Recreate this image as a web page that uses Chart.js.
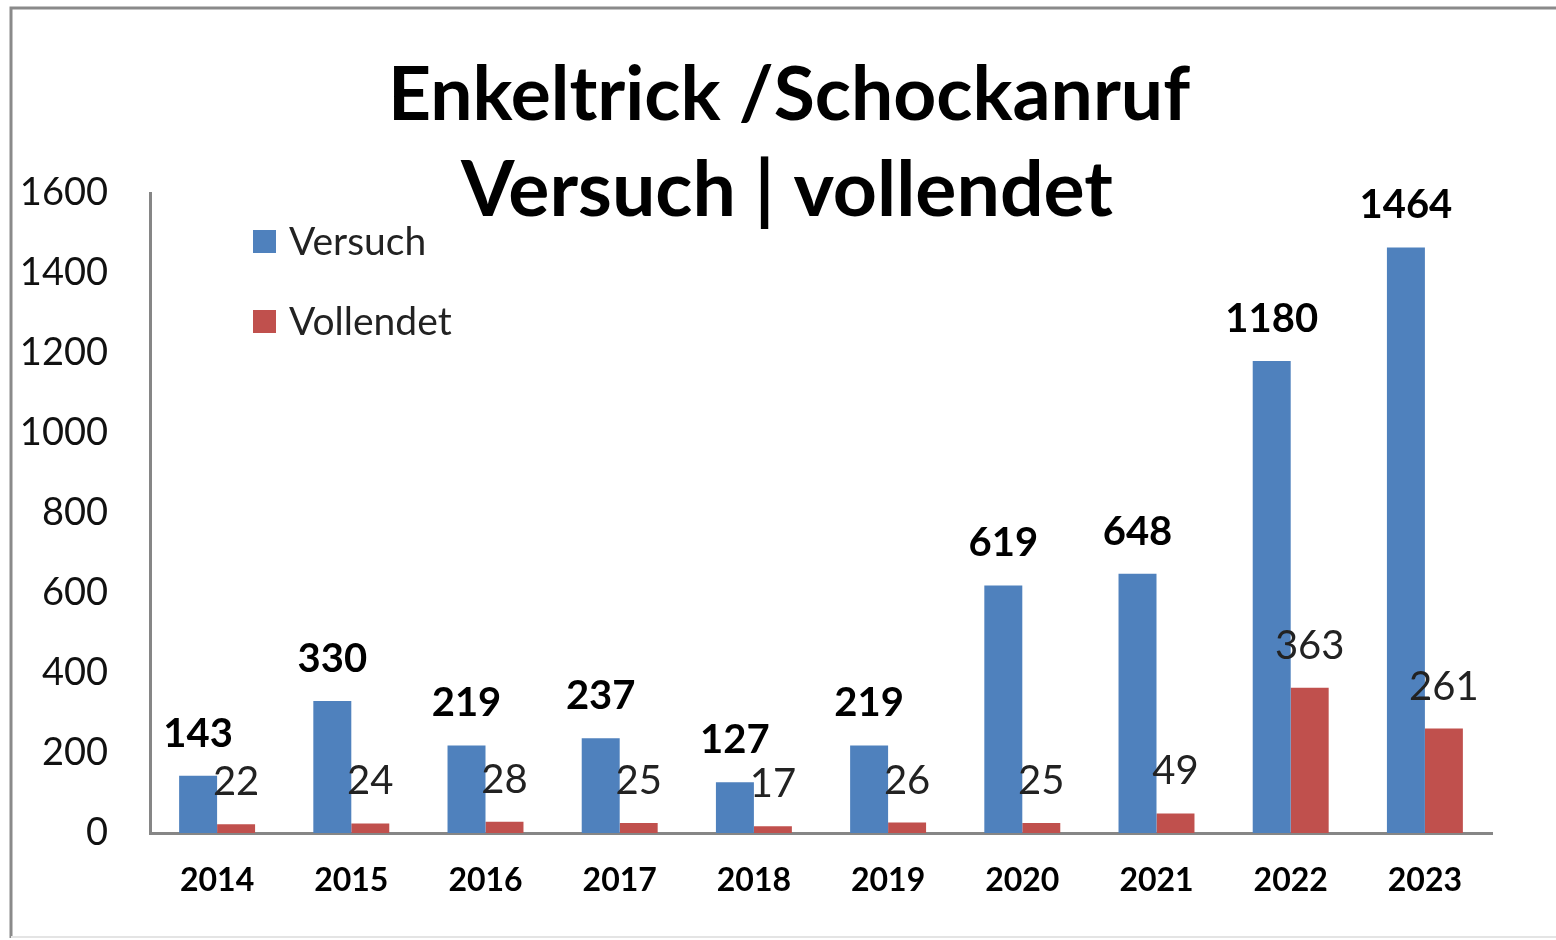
<!DOCTYPE html>
<html>
<head>
<meta charset="utf-8">
<script src="https://cdn.jsdelivr.net/npm/chart.js@4/dist/chart.umd.min.js"></script>
<style>
  html, body { margin: 0; padding: 0; background: #fff; }
  #wrap { width: 1556px; height: 940px; }
</style>
</head>
<body>
<div id="wrap"><canvas id="myChartBar"></canvas></div>
<script>
var titleLines = ['Enkeltrick /Schockanruf', 'Versuch | vollendet'];
var years = ['2014', '2015', '2016', '2017', '2018', '2019', '2020', '2021', '2022', '2023'];
var versuch = [143, 330, 219, 237, 127, 219, 619, 648, 1180, 1464];
var vollendet = [22, 24, 28, 25, 17, 26, 25, 49, 363, 261];
var yTicks = [0, 200, 400, 600, 800, 1000, 1200, 1400, 1600];

var FONT = 'Lato, "Open Sans", sans-serif';

// frame + title
var framePlugin = {
  id: 'frame',
  beforeDraw: function(chart) {
    var ctx = chart.ctx;
    ctx.save();
    ctx.fillStyle = '#fff';
    ctx.fillRect(0, 0, chart.width, chart.height);
    ctx.strokeStyle = '#8a8a8a';
    ctx.lineWidth = 3;
    ctx.beginPath();
    ctx.moveTo(11, 938);
    ctx.lineTo(11, 8);
    ctx.lineTo(1560, 8);
    ctx.stroke();
    ctx.strokeStyle = '#e4e4e4';
    ctx.lineWidth = 2;
    ctx.beginPath();
    ctx.moveTo(11, 937);
    ctx.lineTo(1560, 937);
    ctx.stroke();
    ctx.restore();
  },
  afterDraw: function(chart) {
    var ctx = chart.ctx;
    ctx.save();
    ctx.fillStyle = '#000';
    ctx.font = 'bold 75px ' + FONT;
    ctx.textAlign = 'center';
    ctx.textBaseline = 'alphabetic';
    ctx.fillText(titleLines[0], 789, 120);
    ctx.font = 'bold 77px ' + FONT;
    ctx.fillText(titleLines[1], 787, 216);
    ctx.restore();
  }
};

// legend inside the plot
var legendPlugin = {
  id: 'innerLegend',
  afterDraw: function(chart) {
    var ctx = chart.ctx;
    ctx.save();
    ctx.font = '39px ' + FONT;
    ctx.textBaseline = 'middle';
    ctx.textAlign = 'left';
    chart.data.datasets.forEach(function(ds, i) {
      var y = 241 + i * 80;
      ctx.fillStyle = ds.backgroundColor;
      ctx.fillRect(253, y - 11, 23, 23);
      ctx.fillStyle = '#222';
      ctx.fillText(ds.label, 289, y + 1);
    });
    ctx.restore();
  }
};

// value labels above bars
var valuePlugin = {
  id: 'values',
  afterDatasetsDraw: function(chart) {
    var ctx = chart.ctx;
    ctx.save();
    ctx.textAlign = 'center';
    ctx.textBaseline = 'alphabetic';
    chart.data.datasets.forEach(function(ds, i) {
      var meta = chart.getDatasetMeta(i);
      ctx.font = (i === 0 ? 'bold ' : '') + '40px ' + FONT;
      ctx.fillStyle = i === 0 ? '#000' : '#222';
      meta.data.forEach(function(bar, k) {
        ctx.fillText(ds.data[k], bar.x, bar.y - 29);
      });
    });
    ctx.restore();
  }
};

var ctx = document.getElementById('myChartBar');
var chart = new Chart(ctx, {
  type: 'bar',
  data: {
    labels: years,
    datasets: [{
      label: 'Versuch',
      data: versuch,
      backgroundColor: '#4F81BD'
    }, {
      label: 'Vollendet',
      data: vollendet,
      backgroundColor: '#C0504D'
    }]
  },
  options: {
    responsive: true,
    maintainAspectRatio: false,
    animation: false,
    categoryPercentage: 0.566,
    barPercentage: 1.0,
    layout: { padding: { top: 193, left: 0, right: 64, bottom: 0 } },
    plugins: {
      legend: { display: false },
      title: { display: false },
      tooltip: { enabled: false }
    },
    scales: {
      x: {
        grid: { display: false, drawTicks: false },
        border: { display: true, color: '#868686', width: 3 },
        ticks: {
          padding: 28,
          color: '#000',
          font: { family: FONT, size: 32, weight: 'bold' }
        },
        afterFit: function(scale) { scale.height = 107; }
      },
      y: {
        min: 0,
        max: 1600,
        grid: { display: false, drawTicks: false },
        border: { display: true, color: '#868686', width: 3 },
        afterBuildTicks: function(scale) {
          scale.ticks = yTicks.map(function(v) { return { value: v }; });
        },
        ticks: {
          padding: 42,
          color: '#111',
          font: { family: FONT, size: 38 },
          callback: function(value) { return String(value); }
        },
        afterFit: function(scale) { scale.width = 150; }
      }
    }
  },
  plugins: [framePlugin, legendPlugin, valuePlugin]
});
</script>
</body>
</html>
